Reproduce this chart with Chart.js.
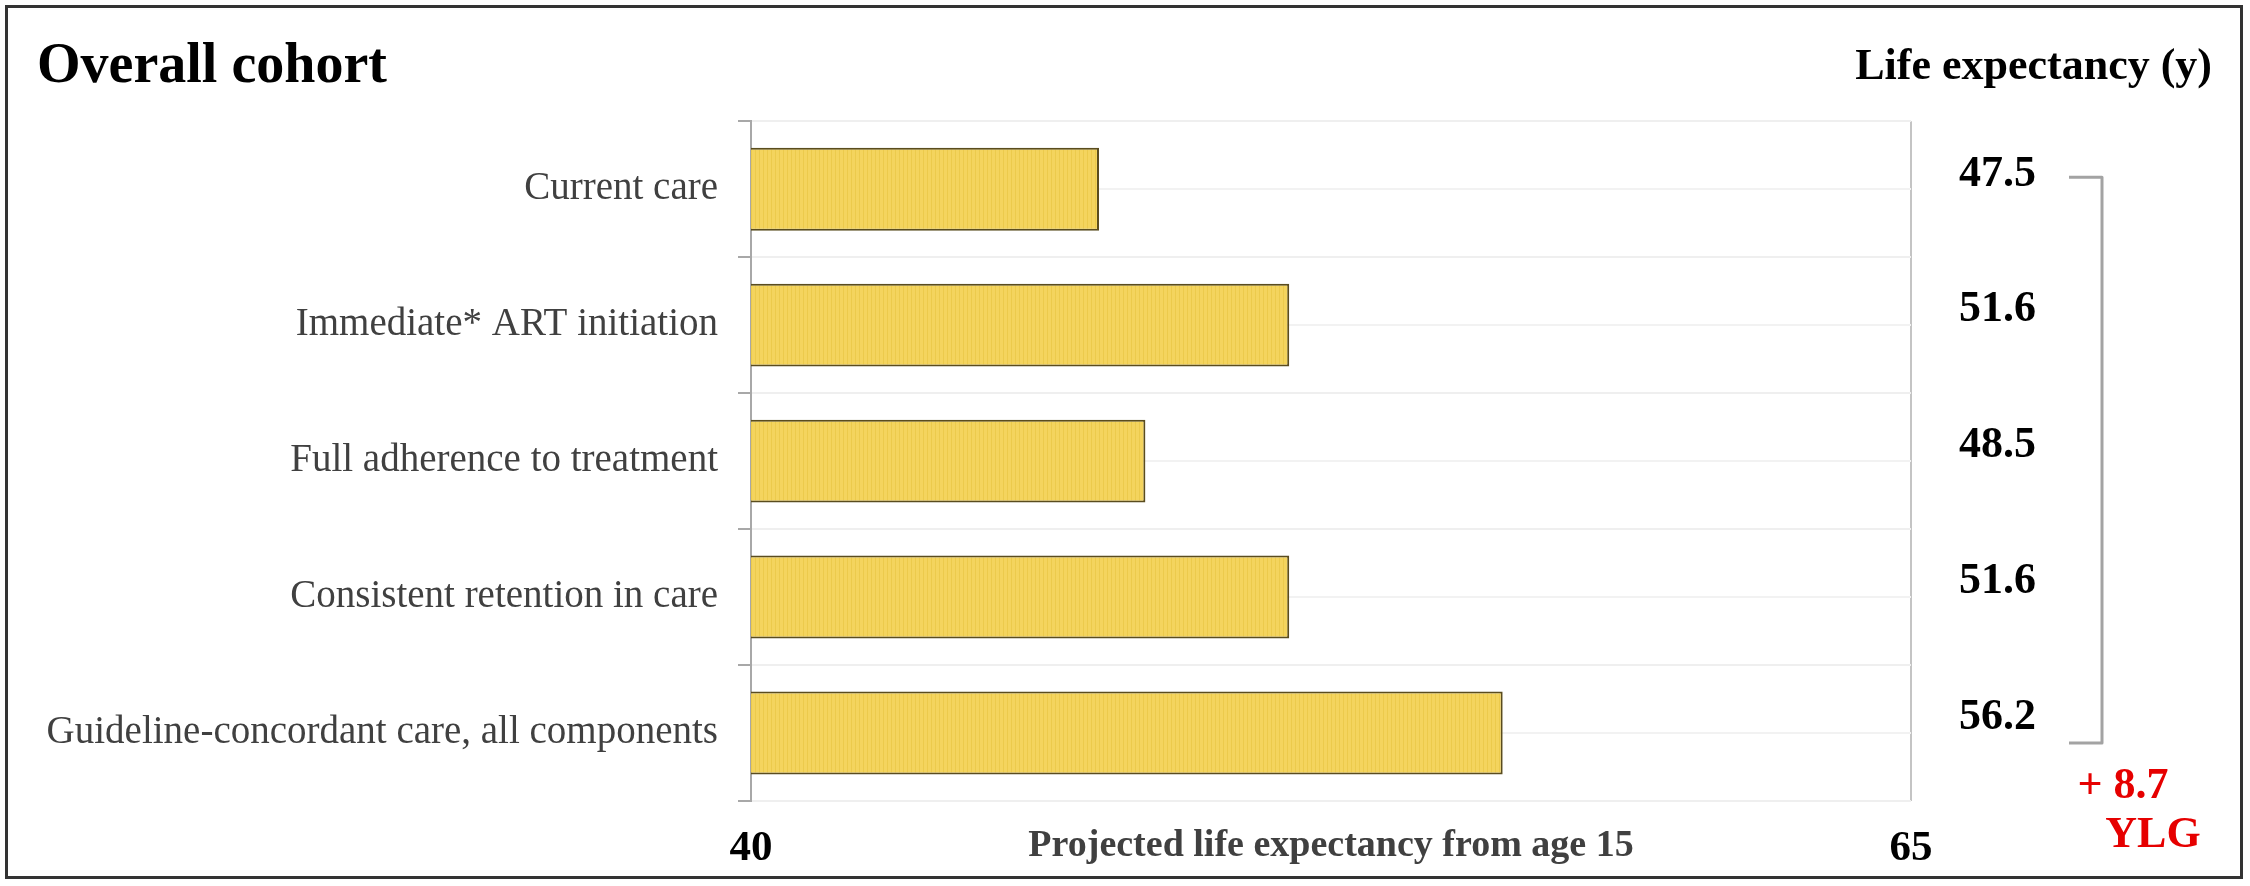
<!DOCTYPE html>
<html lang="en">
<head>
<meta charset="UTF-8" />
<title>Overall cohort</title>
<style>
  html, body { margin: 0; padding: 0; background: #fff; }
  body { width: 2250px; height: 886px; position: relative; overflow: hidden; }
  canvas { position: absolute; left: 0; top: 0; }
  #frame { position: absolute; left: 5px; top: 5px; width: 2232px; height: 868px; border: 3px solid #333; pointer-events: none; }
</style>
</head>
<body>
<canvas id="chart" width="2250" height="886" style="width:2250px;height:886px"></canvas>
<div id="frame"></div>
<script src="https://cdn.jsdelivr.net/npm/chart.js"></script>
<script>
const categories = [
  'Current care',
  'Immediate* ART initiation',
  'Full adherence to treatment',
  'Consistent retention in care',
  'Guideline-concordant care, all components'
];
const lifeExpectancy = [47.5, 51.6, 48.5, 51.6, 56.2];
const valueLabels = ['47.5', '51.6', '48.5', '51.6', '56.2'];
const xTicks = [40, 65];
const gainLines = ['+ 8.7', 'YLG'];
const titleText = 'Overall cohort';
const headerRight = 'Life expectancy (y)';
const xTitle = 'Projected life expectancy from age 15';

const serif = "'Times New Roman', 'Liberation Serif', serif";

// fine vertical texture in the bars
const tile = document.createElement('canvas');
tile.width = 4; tile.height = 1;
const tctx = tile.getContext('2d');
tctx.fillStyle = '#f4d45e'; tctx.fillRect(0, 0, 4, 1);
tctx.fillStyle = '#ecca4c'; tctx.fillRect(3, 0, 1, 1);
const barFill = tctx.createPattern(tile, 'repeat');

const annotations = {
  id: 'annotations',
  afterDraw(chart) {
    const { ctx, chartArea, scales } = chart;
    const y = scales.y;
    ctx.save();
    ctx.font = 'bold 44px ' + serif;
    ctx.fillStyle = '#000';
    ctx.textAlign = 'right';
    ctx.textBaseline = 'alphabetic';
    ctx.fillText(headerRight, 2212, 79);

    // bracket from first to last value
    const x0 = chartArea.right + 158, x1 = chartArea.right + 191;
    const yTop = y.getPixelForValue(0) - 12;
    const yBot = y.getPixelForValue(categories.length - 1) + 10;
    ctx.strokeStyle = '#a3a3a3';
    ctx.lineWidth = 3;
    ctx.lineJoin = 'round';
    ctx.beginPath();
    ctx.moveTo(x0, yTop); ctx.lineTo(x1, yTop);
    ctx.lineTo(x1, yBot); ctx.lineTo(x0, yBot);
    ctx.stroke();

    ctx.fillStyle = '#e60000';
    ctx.textAlign = 'center';
    ctx.fillText(gainLines[0], 2123, 798);
    ctx.fillText(gainLines[1], 2153, 847);
    ctx.restore();
  }
};

new Chart(document.getElementById('chart'), {
  type: 'bar',
  data: {
    labels: categories,
    datasets: [{
      data: lifeExpectancy,
      backgroundColor: barFill,
      borderColor: '#5a4c1e',
      borderWidth: 2,
      borderSkipped: false,
      barPercentage: 0.61,
      categoryPercentage: 1
    }]
  },
  options: {
    indexAxis: 'y',
    responsive: false,
    animation: false,
    devicePixelRatio: 1,
    layout: { padding: { left: 37, right: 0, top: 0, bottom: 0 } },
    plugins: {
      legend: { display: false },
      tooltip: { enabled: false },
      title: {
        display: true,
        text: titleText,
        align: 'start',
        color: '#000',
        font: { family: serif, size: 56, weight: 'bold' },
        padding: { top: 34, bottom: 20 }
      }
    },
    scales: {
      x: {
        min: 40,
        max: 65,
        afterBuildTicks: s => { s.ticks = xTicks.map(v => ({ value: v })); },
        afterFit: s => { s.height = 85; },
        grid: { color: '#c4c4c4', lineWidth: 2, drawTicks: false },
        border: { display: false },
        ticks: {
          color: '#000',
          padding: 22,
          font: { family: serif, size: 43, weight: 'bold' }
        },
        title: {
          display: true,
          text: xTitle,
          color: '#404040',
          font: { family: serif, size: 38, weight: 'bold' },
          padding: { top: 0, bottom: 17 }
        }
      },
      y: {
        position: 'left',
        afterFit: s => { s.width = 714; },
        grid: { color: '#efefef', lineWidth: 2, tickColor: '#a8a8a8', tickLength: 13, offset: true },
        border: { color: '#a8a8a8', width: 2 },
        ticks: {
          color: '#404040',
          padding: 20,
          font: { family: serif, size: 39 }
        }
      },
      y2: {
        type: 'category',
        position: 'right',
        labels: valueLabels,
        offset: true,
        afterFit: s => { s.width = 339; },
        grid: { color: '#f2f2f2', lineWidth: 2, drawTicks: false, offset: false },
        border: { display: false },
        ticks: {
          color: '#000',
          padding: 48,
          labelOffset: -15,
          font: { family: serif, size: 44, weight: 'bold' }
        }
      }
    }
  },
  plugins: [annotations]
});
</script>
</body>
</html>
